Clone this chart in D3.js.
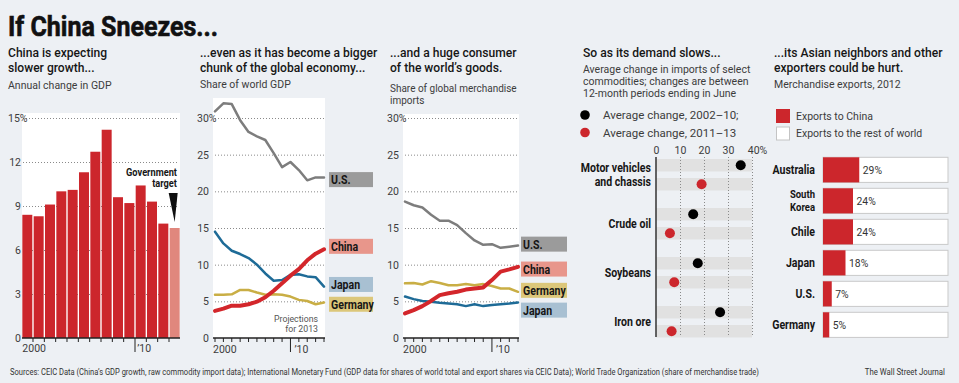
<!DOCTYPE html>
<html>
<head>
<meta charset="utf-8">
<script src="https://cdn.jsdelivr.net/npm/d3@7"></script>
<style>
  html, body { margin: 0; padding: 0; background: #edf0f4; }
  svg { display: block; }
  text { font-family: Roboto, "Noto Sans", sans-serif; }
</style>
</head>
<body>
<svg id="chart" width="959" height="383"></svg>
<script>
// ── Données ─────────────────────────────────────────────────────────
const GROWTH_YEARS = [2000, 2001, 2002, 2003, 2004, 2005, 2006, 2007, 2008, 2009, 2010, 2011, 2012, 2013];
const GROWTH       = [8.4, 8.3, 9.1, 10.0, 10.1, 11.3, 12.7, 14.2, 9.6, 9.2, 10.4, 9.3, 7.8, 7.5];
const GROWTH_TARGET_YEAR = 2013;

const LINE_YEARS = [2000, 2001, 2002, 2003, 2004, 2005, 2006, 2007, 2008, 2009, 2010, 2011, 2012, 2013];

const GDP_US      = [30.9, 32.0, 31.9, 29.7, 28.1, 27.5, 27.0, 25.2, 23.3, 24.0, 22.9, 21.5, 21.9, 21.9];
const GDP_CHINA   = [3.7, 4.0, 4.4, 4.4, 4.6, 4.95, 5.55, 6.45, 7.45, 8.5, 9.4, 10.6, 11.5, 12.1];
const GDP_JAPAN   = [14.5, 12.9, 11.9, 11.45, 10.9, 10.0, 8.8, 7.8, 7.9, 8.6, 8.7, 8.4, 8.3, 7.0];
const GDP_GERMANY = [5.9, 5.9, 5.95, 6.55, 6.55, 6.2, 5.9, 5.95, 5.9, 5.65, 5.2, 5.05, 4.6, 4.85];

const IMP_US      = [18.6, 18.1, 17.8, 16.8, 16.0, 16.0, 15.4, 14.3, 13.3, 12.7, 12.8, 12.3, 12.45, 12.6];
const IMP_CHINA   = [3.35, 3.8, 4.35, 5.05, 5.85, 6.1, 6.3, 6.6, 6.75, 6.9, 7.9, 9.05, 9.35, 9.7];
const IMP_GERMANY = [7.45, 7.5, 7.3, 7.75, 7.5, 7.2, 7.2, 7.35, 7.2, 7.35, 7.1, 6.75, 6.75, 6.3];
const IMP_JAPAN   = [5.65, 5.3, 5.05, 4.95, 4.8, 4.7, 4.6, 4.35, 4.6, 4.35, 4.5, 4.6, 4.7, 4.85];

const COMMODITIES = ['Motor vehicles|and chassis', 'Crude oil', 'Soybeans', 'Iron ore'];
const AVG_0210    = [35.3, 15.5, 17.4, 26.7];
const AVG_1113    = [19.0, 5.8, 7.6, 6.5];

const EXPORTERS = ['Australia', 'South|Korea', 'Chile', 'Japan', 'U.S.', 'Germany'];
const TO_CHINA  = [29, 24, 24, 18, 7, 5];

const SHARE_TICKS  = [0, 5, 10, 15, 20, 25, 30];
const GROWTH_TICKS = [0, 3, 6, 9, 12, 15];
const DOT_TICKS    = [0, 10, 20, 30, 40];

// ── Style ───────────────────────────────────────────────────────────
const INK = '#161616', SUB = '#3c3c3c', RED = '#cc262c', BG = '#edf0f4';
const COLORS = {
  us:      { line: '#7d7d7d', box: '#9b9b9b' },
  china:   { line: '#d3262b', box: '#e8968b' },
  japan:   { line: '#1e6b97', box: '#a8c0d2' },
  germany: { line: '#c9ae45', box: '#dcc77a' },
};
// facteurs de condensation (la police WSJ est étroite)
const K_HEAD = 0.93, K_BOLD = 0.88;

const svg = d3.select('#chart');
svg.append('rect').attr('width', 959).attr('height', 383).attr('fill', BG);

svg.append('text').attr('class', 'serif')
  .attr('x', 8).attr('y', 36)
  .attr('font-family', '"Liberation Serif", "DejaVu Serif", serif')
  .attr('font-weight', 700).attr('font-size', 27).attr('fill', '#111')
  .attr('stroke', '#111').attr('stroke-width', 0.6)
  .attr('textLength', 210).attr('lengthAdjust', 'spacingAndGlyphs')
  .text('If China Sneezes...');

function heading(x, y, lines) {
  lines.forEach((t, i) => svg.append('text')
    .attr('x', x).attr('y', y + i * 15).attr('data-k', K_HEAD)
    .attr('font-size', 13).attr('font-weight', 500).attr('fill', INK).text(t));
}
function subhead(x, y, lines, lh = 12, size = 10.5, k = 1) {
  lines.forEach((t, i) => svg.append('text')
    .attr('x', x).attr('y', y + i * lh).attr('data-k', k)
    .attr('font-size', size).attr('fill', SUB).text(t));
}
function boldLabel(x, y, t, size = 12) {
  return svg.append('text').attr('x', x).attr('y', y).attr('data-k', K_BOLD)
    .attr('text-anchor', 'end').attr('font-size', size).attr('font-weight', 700)
    .attr('fill', INK).text(t);
}
function dotted(g) {
  g.selectAll('.tick line').attr('stroke', '#8a8a8a').attr('stroke-dasharray', '1,2');
}

// ── Panneau 1 : croissance du PIB ───────────────────────────────────
heading(8, 57, ['China is expecting', 'slower growth...']);
subhead(8, 89, ['Annual change in GDP']);

const x1 = d3.scaleBand().domain(GROWTH_YEARS).range([22, 180]).paddingInner(0.12).paddingOuter(0.03);
const y1 = d3.scaleLinear().domain([0, 15]).range([338, 118]);

svg.append('rect').attr('x', 22).attr('y', 113).attr('width', 158).attr('height', 225).attr('fill', '#fff');

const g1y = svg.append('g').attr('transform', 'translate(23,0)')
  .call(d3.axisLeft(y1).tickValues(GROWTH_TICKS).tickSize(-156).tickPadding(2)
    .tickFormat(d => d === 15 ? '15%' : d))
  .call(g => g.select('.domain').remove());
dotted(g1y);
g1y.selectAll('.tick').filter(d => d === 0).select('line').remove();
g1y.selectAll('text').attr('font-size', 10.5).attr('fill', SUB).attr('font-family', null);
g1y.selectAll('.tick').filter(d => d === 15).select('text').attr('text-anchor', 'start').attr('x', -15);

svg.append('g').selectAll('rect')
  .data(GROWTH_YEARS).join('rect')
  .attr('x', d => x1(d))
  .attr('y', (d, i) => y1(GROWTH[i]))
  .attr('width', x1.bandwidth())
  .attr('height', (d, i) => y1(0) - y1(GROWTH[i]))
  .attr('fill', d => d === GROWTH_TARGET_YEAR ? '#e0877d' : RED);

// axe x (repères aux frontières entre années)
const gap1 = x1.step() - x1.bandwidth();
svg.append('line').attr('x1', 22).attr('x2', 180).attr('y1', 338).attr('y2', 338)
  .attr('stroke', '#222').attr('stroke-width', 1.3);
svg.append('g').selectAll('line')
  .data(GROWTH_YEARS.slice(1)).join('line')
  .attr('x1', d => x1(d) - gap1 / 2).attr('x2', d => x1(d) - gap1 / 2)
  .attr('y1', 338).attr('y2', d => d === 2010 ? 352 : 342)
  .attr('stroke', '#222').attr('stroke-width', 1);
svg.append('text').attr('x', x1(2000)).attr('y', 352).attr('font-size', 10.5).attr('fill', SUB).text('2000');
svg.append('text').attr('x', x1(2010) + 1.5).attr('y', 352).attr('font-size', 10.5).attr('fill', SUB).text('’10');

// annotation "Government target"
const tx = x1(GROWTH_TARGET_YEAR) + x1.bandwidth() / 2;
boldLabel(177, 175.5, 'Government', 10.5);
boldLabel(177, 187, 'target', 10.5);
const tipY = y1(GROWTH[GROWTH_YEARS.indexOf(GROWTH_TARGET_YEAR)]) - 6;
svg.append('path')
  .attr('d', `M${tx - 6},193 L${tx + 3},193 L${tx},${tipY} Z`)
  .attr('fill', '#111');

// ── Panneaux 2 et 3 : courbes ──────────────────────────────────────
function linePanel(opt) {
  const x = d3.scaleLinear().domain([2000, 2013]).range([opt.x0, opt.x1]);
  const y = d3.scaleLinear().domain([0, 30]).range([338, 118]);

  svg.append('rect').attr('x', opt.x0 - 2).attr('y', opt.bgTop)
    .attr('width', opt.x1 - opt.x0 + 3).attr('height', 338 - opt.bgTop).attr('fill', '#fff');

  const gy = svg.append('g').attr('transform', `translate(${opt.x0},0)`)
    .call(d3.axisLeft(y).tickValues(SHARE_TICKS).tickSize(-(opt.x1 - opt.x0)).tickPadding(6)
      .tickFormat(d => d === 30 ? '30%' : d))
    .call(g => g.select('.domain').remove());
  dotted(gy);
  gy.selectAll('.tick').filter(d => d === 0).select('line').remove();
  gy.selectAll('text').attr('font-size', 10.5).attr('fill', SUB).attr('font-family', null);
  gy.selectAll('.tick').filter(d => d === 30).select('text').attr('text-anchor', 'start').attr('x', -18);

  const line = d3.line().x((d, i) => x(LINE_YEARS[i])).y(d => y(d));
  opt.series.forEach(s => {
    svg.append('path').datum(s.values)
      .attr('d', line).attr('fill', 'none')
      .attr('stroke', COLORS[s.key].line).attr('stroke-width', s.key === 'china' ? 4 : 2.5)
      .attr('stroke-linejoin', 'round').attr('stroke-linecap', 'round');
  });

  // étiquettes des séries
  opt.series.forEach(s => {
    const cy = y(s.labelAt);
    svg.append('rect').attr('x', opt.boxX).attr('y', cy - 7.5)
      .attr('width', opt.boxW).attr('height', 15).attr('fill', COLORS[s.key].box);
    boldLabel(opt.boxX + 2, cy + 4.5, s.name).attr('text-anchor', 'start');
  });

  // axe x
  svg.append('line').attr('x1', opt.x0 - 2).attr('x2', opt.x1 + 1).attr('y1', 338).attr('y2', 338)
    .attr('stroke', '#222').attr('stroke-width', 1.3);
  svg.append('g').selectAll('line')
    .data(LINE_YEARS).join('line')
    .attr('x1', d => x(d)).attr('x2', d => x(d))
    .attr('y1', 338).attr('y2', d => d === opt.decade ? 352 : 342)
    .attr('stroke', '#222').attr('stroke-width', 1);
  svg.append('text').attr('x', x(2000) - 2).attr('y', 353).attr('font-size', 10.5).attr('fill', SUB).text('2000');
  svg.append('text').attr('x', x(opt.decade) + 4).attr('y', 353).attr('font-size', 10.5).attr('fill', SUB).text('’10');
  return { x, y };
}

heading(200, 57, ['...even as it has become a bigger', 'chunk of the global economy...']);
subhead(200, 88, ['Share of world GDP']);
linePanel({
  x0: 215, x1: 324, bgTop: 98, boxX: 329, boxW: 44, decade: 2009,
  series: [
    { key: 'us',      name: 'U.S.',    values: GDP_US,      labelAt: 21.6 },
    { key: 'germany', name: 'Germany', values: GDP_GERMANY, labelAt: 4.6 },
    { key: 'japan',   name: 'Japan',   values: GDP_JAPAN,   labelAt: 7.3 },
    { key: 'china',   name: 'China',   values: GDP_CHINA,   labelAt: 12.5 },
  ],
});
svg.append('text').attr('x', 318).attr('y', 322).attr('text-anchor', 'end').attr('data-k', 0.92)
  .attr('font-size', 9.5).attr('fill', '#555').text('Projections');
svg.append('text').attr('x', 318).attr('y', 332).attr('text-anchor', 'end').attr('data-k', 0.92)
  .attr('font-size', 9.5).attr('fill', '#555').text('for 2013');

heading(390, 57, ['...and a huge consumer', 'of the world’s goods.']);
subhead(390, 92, ['Share of global merchandise', 'imports'], 11.5, 10.5, 0.95);
linePanel({
  x0: 405, x1: 518, bgTop: 114, boxX: 521, boxW: 46, decade: 2010,
  series: [
    { key: 'us',      name: 'U.S.',    values: IMP_US,      labelAt: 12.8 },
    { key: 'germany', name: 'Germany', values: IMP_GERMANY, labelAt: 6.5 },
    { key: 'japan',   name: 'Japan',   values: IMP_JAPAN,   labelAt: 3.8 },
    { key: 'china',   name: 'China',   values: IMP_CHINA,   labelAt: 9.4 },
  ],
});

// ── Panneau 4 : importations de matières premières ─────────────────
heading(583, 57, ['So as its demand slows...']);
subhead(583, 72.5, ['Average change in imports of select',
  'commodities; changes are between', '12-month periods ending in June']);
svg.append('circle').attr('cx', 585).attr('cy', 115).attr('r', 4.8).attr('fill', '#000');
subhead(603, 119, ['Average change, 2002–10;'], 12, 11.5);
svg.append('circle').attr('cx', 585).attr('cy', 132.5).attr('r', 4.8).attr('fill', RED);
subhead(603, 136.5, ['Average change, 2011–13'], 12, 11.5);

const x4 = d3.scaleLinear().domain([0, 40]).range([656, 752]);
const rows4 = d3.scaleBand().domain(COMMODITIES).range([159, 355]);
const sub4 = d3.scaleBand().domain(['early', 'late']).range([0, 31.5]).paddingInner(0.342);

const g4 = svg.append('g');
COMMODITIES.forEach(c => {
  ['early', 'late'].forEach(k => {
    g4.append('rect').attr('x', x4(0)).attr('y', rows4(c) + sub4(k))
      .attr('width', x4(40) - x4(0)).attr('height', sub4.bandwidth()).attr('fill', '#e1e1e1');
  });
});
const g4x = svg.append('g').attr('transform', 'translate(0,157)')
  .call(d3.axisTop(x4).tickValues(DOT_TICKS).tickSize(-180).tickPadding(3)
    .tickFormat(d => d === 40 ? '40%' : d))
  .call(g => g.select('.domain').remove());
dotted(g4x);
g4x.selectAll('.tick').filter(d => d === 0).select('line').remove();
g4x.selectAll('text').attr('font-size', 10.5).attr('fill', SUB).attr('font-family', null);
g4x.selectAll('.tick').filter(d => d === 40).select('text').attr('dx', 5);
svg.append('line').attr('x1', x4(0)).attr('x2', x4(0)).attr('y1', 157).attr('y2', 337)
  .attr('stroke', '#333').attr('stroke-width', 1.5);

const cy4 = (c, k) => rows4(c) + sub4(k) + sub4.bandwidth() / 2;
svg.append('g').selectAll('circle')
  .data(COMMODITIES).join('circle')
  .attr('cx', (d, i) => x4(AVG_0210[i])).attr('cy', d => cy4(d, 'early'))
  .attr('r', 5).attr('fill', '#000');
svg.append('g').selectAll('circle')
  .data(COMMODITIES).join('circle')
  .attr('cx', (d, i) => x4(AVG_1113[i])).attr('cy', d => cy4(d, 'late'))
  .attr('r', 5).attr('fill', RED);

COMMODITIES.forEach(c => {
  const lines = c.split('|');
  const mid = rows4(c) + 15.75;
  lines.forEach((t, i) => boldLabel(651, mid + 4 + (i - (lines.length - 1) / 2) * 14, t));
});

// ── Panneau 5 : exportations vers la Chine ──────────────────────────
heading(774, 57, ['...its Asian neighbors and other', 'exporters could be hurt.']);
subhead(774, 88, ['Merchandise exports, 2012']);
svg.append('rect').attr('x', 776).attr('y', 109).attr('width', 14).attr('height', 14).attr('fill', RED);
subhead(796, 119.5, ['Exports to China']);
svg.append('rect').attr('x', 776.5).attr('y', 127).attr('width', 13).attr('height', 13)
  .attr('fill', '#fff').attr('stroke', '#c4c4c4');
subhead(796, 137, ['Exports to the rest of world']);

const x5 = d3.scaleLinear().domain([0, 100]).range([823, 948]);
const y5 = d3.scaleBand().domain(EXPORTERS).range([157.3, 337.4]).paddingInner(0.19);

const g5 = svg.append('g');
g5.selectAll('rect.total').data(EXPORTERS).join('rect').attr('class', 'total')
  .attr('x', x5(0)).attr('y', d => y5(d))
  .attr('width', x5(100) - x5(0)).attr('height', y5.bandwidth())
  .attr('fill', '#fff').attr('stroke', '#c9c9c9');
g5.selectAll('rect.china').data(EXPORTERS).join('rect').attr('class', 'china')
  .attr('x', x5(0)).attr('y', d => y5(d))
  .attr('width', (d, i) => x5(TO_CHINA[i]) - x5(0)).attr('height', y5.bandwidth())
  .attr('fill', RED);
EXPORTERS.forEach((c, i) => {
  const mid = y5(c) + y5.bandwidth() / 2;
  svg.append('text').attr('x', x5(TO_CHINA[i]) + 3.5).attr('y', mid + 4).attr('data-k', 0.9)
    .attr('font-size', 11.5).attr('fill', '#333').text(TO_CHINA[i] + '%');
  const lines = c.split('|');
  const size = lines.length > 1 ? 10.8 : 12;
  const lh = 12.8;
  lines.forEach((t, j) => boldLabel(815, mid + 4 + (j - (lines.length - 1) / 2) * lh, t, size));
});

// ── Pied de page (condensé par mise à l'échelle horizontale) ───────
svg.append('g').attr('transform', 'translate(10,375) scale(0.84,1)')
  .append('text').attr('font-size', 9).attr('fill', '#333')
  .text('Sources: CEIC Data (China’s GDP growth, raw commodity import data); International Monetary Fund (GDP data for shares of world total and export shares via CEIC Data); World Trade Organization (share of merchandise trade)');
svg.append('g').attr('transform', 'translate(945,375) scale(0.82,1)')
  .append('text').attr('text-anchor', 'end').attr('font-size', 9.5).attr('fill', '#333')
  .text('The Wall Street Journal');

// condense le texte sans-serif
svg.selectAll('text[data-k]').each(function () {
  const k = +this.getAttribute('data-k');
  const w = this.getComputedTextLength();
  if (w > 0 && k !== 1) d3.select(this).attr('textLength', w * k).attr('lengthAdjust', 'spacingAndGlyphs');
});
</script>
</body>
</html>
